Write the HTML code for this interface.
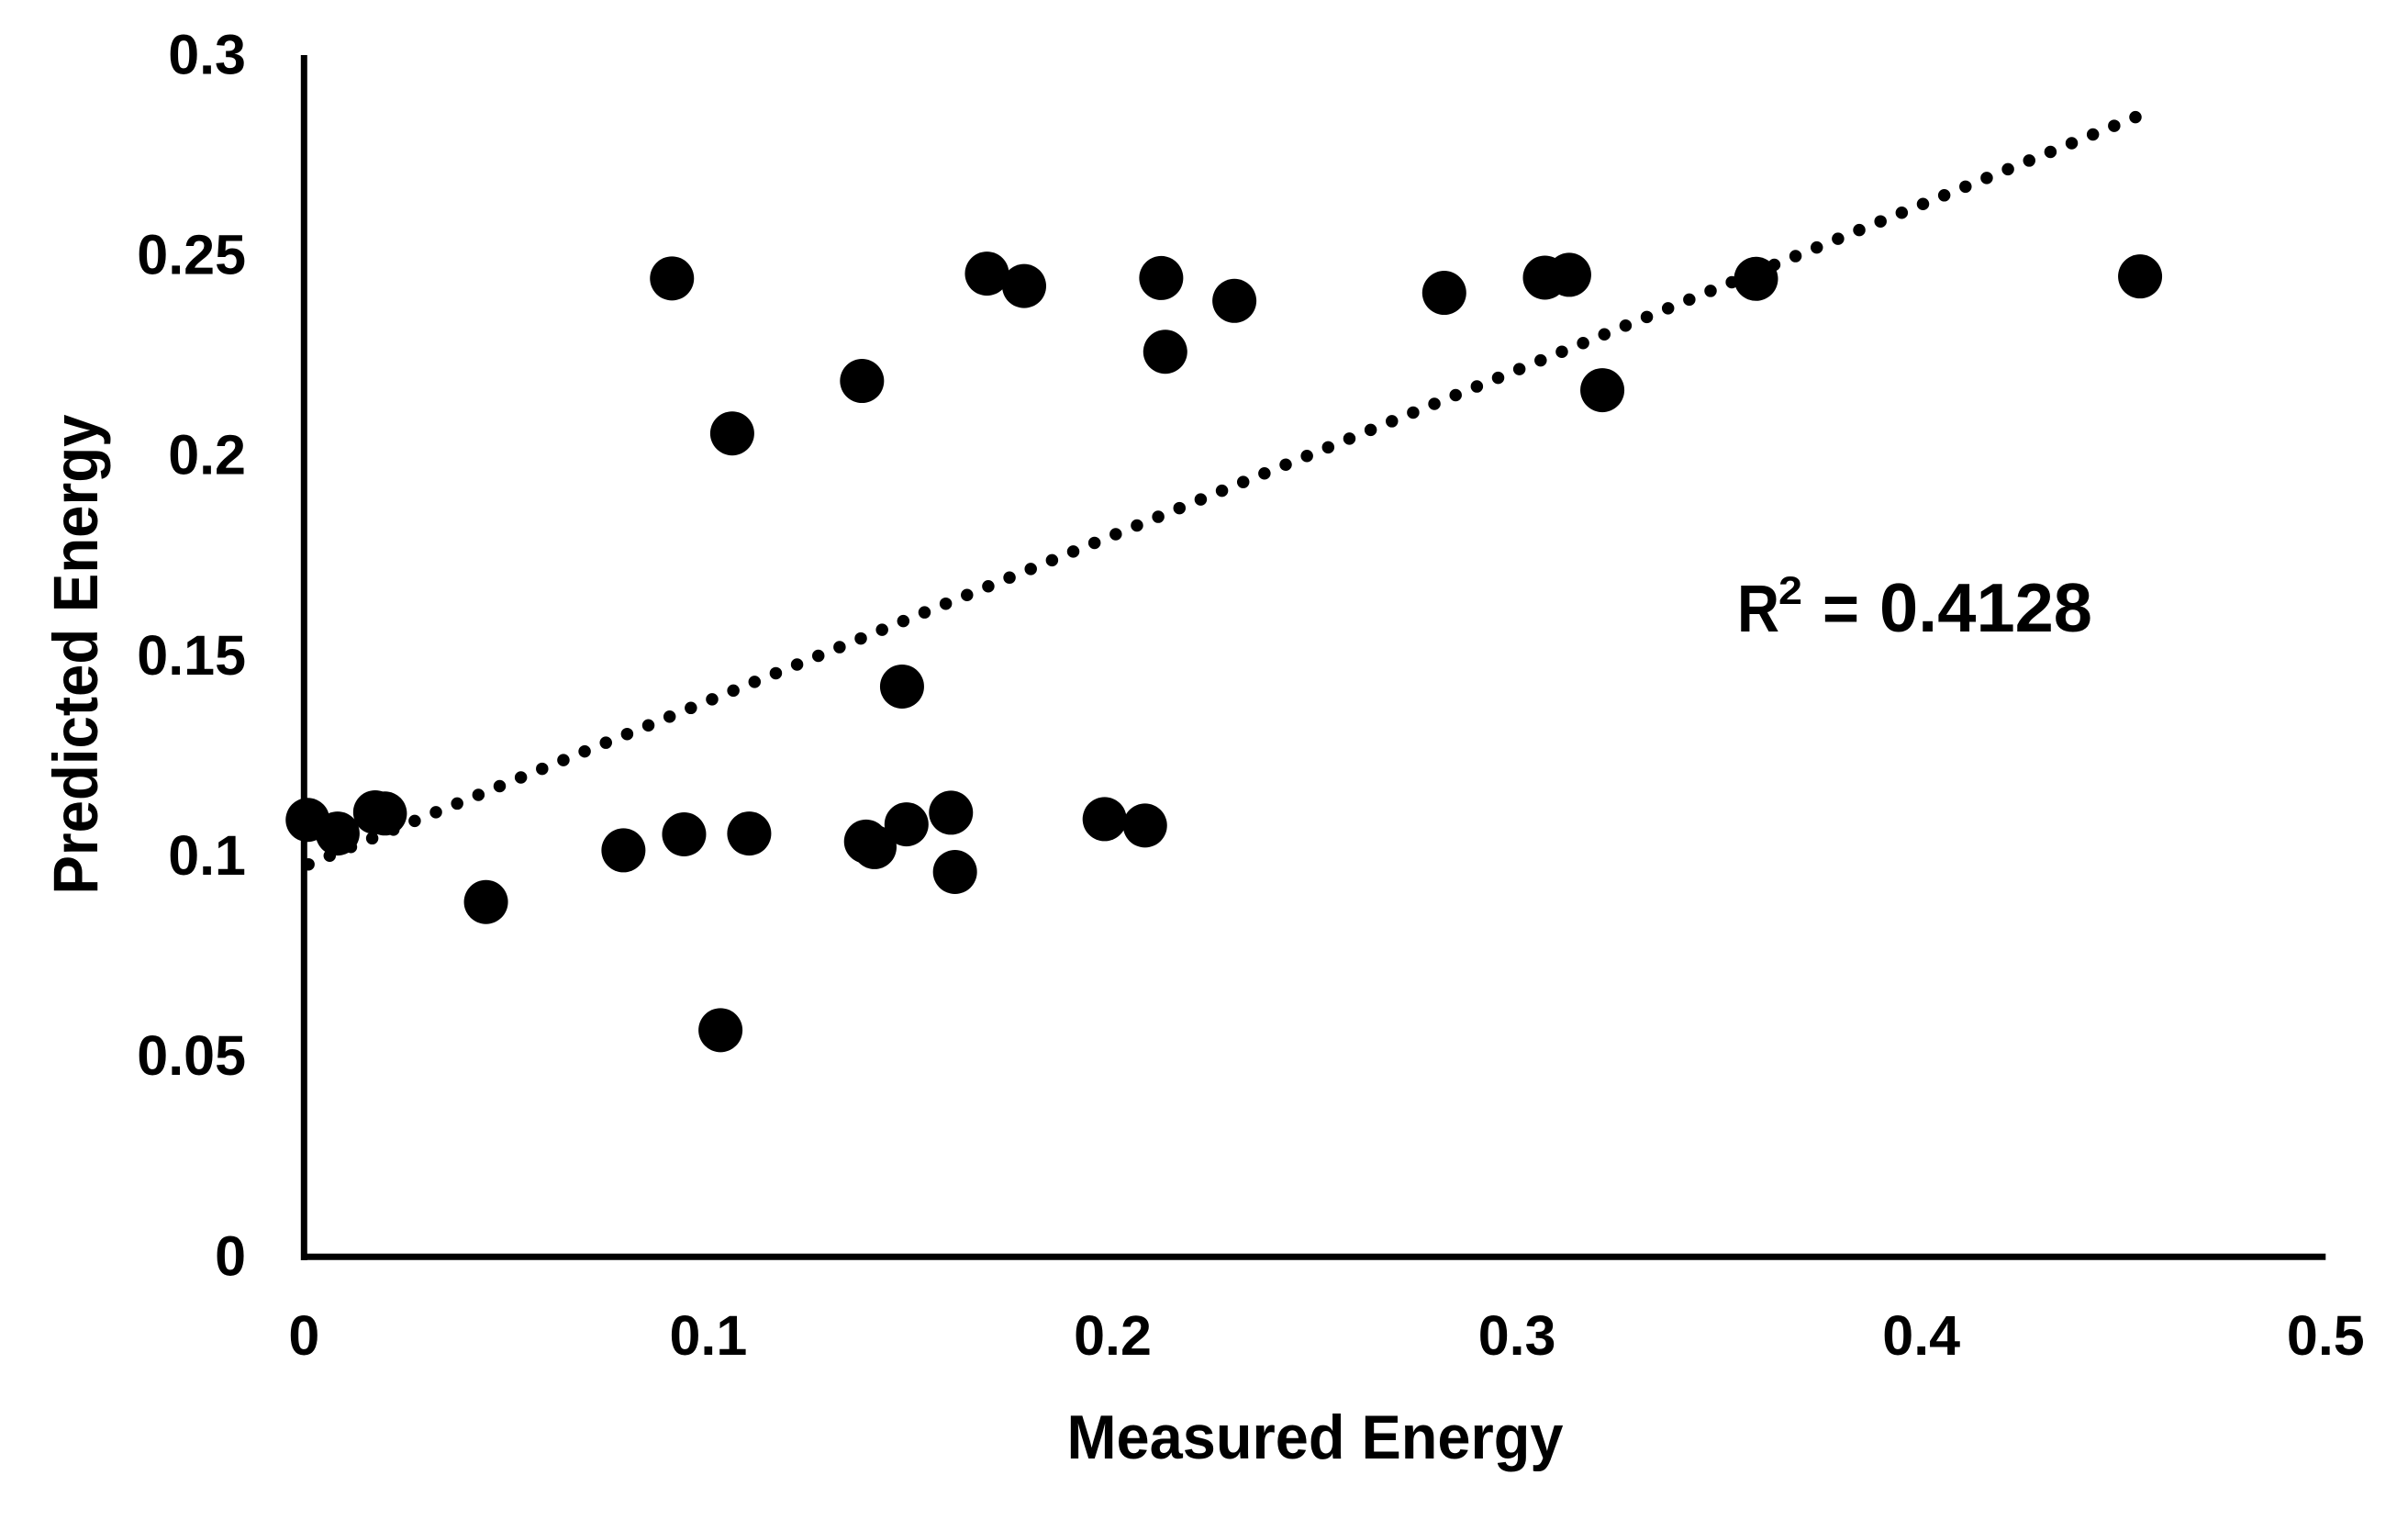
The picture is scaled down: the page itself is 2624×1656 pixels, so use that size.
<!DOCTYPE html>
<html lang="en">
<head>
<meta charset="utf-8">
<title>Measured vs Predicted Energy</title>
<style>
html,body{margin:0;padding:0;background:#fff;}
svg{display:block;}
text{font-family:"Liberation Sans",sans-serif;font-weight:700;fill:#000;}
</style>
</head>
<body>
<svg id="chart" xmlns="http://www.w3.org/2000/svg" width="2624" height="1656" viewBox="0 0 2624 1656">
  <rect x="0" y="0" width="2624" height="1656" fill="#fff"/>
  <g id="trend-layer"></g>
  <g id="point-layer"></g>
  <g id="axis-layer"></g>
  <text x="1433" y="1589" font-size="68" text-anchor="middle" textLength="541" lengthAdjust="spacingAndGlyphs">Measured Energy</text>
  <text x="0" y="0" transform="translate(106 713) rotate(-90)" font-size="69" text-anchor="middle" textLength="523" lengthAdjust="spacingAndGlyphs">Predicted Energy</text>
  <text y="688" font-size="75"><tspan x="1893" y="688" font-size="72" textLength="46" lengthAdjust="spacingAndGlyphs">R</tspan><tspan x="1938" y="658" font-size="43" textLength="26" lengthAdjust="spacingAndGlyphs">2</tspan><tspan x="1986" y="688" font-size="72" textLength="40" lengthAdjust="spacingAndGlyphs">=</tspan><tspan x="2048" y="688" font-size="75" textLength="232" lengthAdjust="spacingAndGlyphs">0.4128</tspan></text>
</svg>
<script>
const measured = [0.0009,0.0083,0.0176,0.0200,0.0450,0.0790,0.0910,0.0940,0.1030,0.1059,0.1101,0.1380,0.1390,0.1411,0.1479,0.1490,0.1600,0.1610,0.1689,0.1781,0.1980,0.2080,0.2120,0.2130,0.2301,0.2820,0.3069,0.3129,0.3211,0.3591,0.4541];
const predicted = [0.1091,0.1057,0.1110,0.1107,0.0886,0.1015,0.2443,0.1055,0.0566,0.2056,0.1057,0.2187,0.1037,0.1023,0.1424,0.1080,0.1109,0.0961,0.2455,0.2424,0.1093,0.1077,0.2444,0.2260,0.2387,0.2407,0.2445,0.2452,0.2164,0.2442,0.2448];
const trendX = [0.0011,0.4530];
const trendY = [0.0980,0.2846];
const xTicks = ["0","0.1","0.2","0.3","0.4","0.5"];
const yTicks = ["0","0.05","0.1","0.15","0.2","0.25","0.3"];

const NS = 'http://www.w3.org/2000/svg';
const xScale = v => 331.3 + v * 4406;
const yScale = v => 1369.3 - v * 4363.3;
const make = (tag, attrs) => {
  const el = document.createElementNS(NS, tag);
  Object.keys(attrs).forEach(k => el.setAttribute(k, attrs[k]));
  return el;
};

const trendLayer = document.getElementById('trend-layer');
const trend = make('polyline', {
  points: trendX.map((x, i) => xScale(x) + ',' + yScale(trendY[i])).join(' '),
  fill: 'none', stroke: '#000', 'stroke-width': 13.5,
  'stroke-linecap': 'round', 'stroke-dasharray': '0 25.01'
});


trendLayer.appendChild(trend);

const pointLayer = document.getElementById('point-layer');
measured.forEach((x, i) => {
  const c = make('circle', { cx: xScale(x), cy: yScale(predicted[i]), r: 24, fill: '#000' });
  
  
  pointLayer.appendChild(c);
});

const axisLayer = document.getElementById('axis-layer');
const yAxis = make('line', { x1: xScale(0), x2: xScale(0), y1: 60, y2: 1373, stroke: '#000', 'stroke-width': 7 });


axisLayer.appendChild(yAxis);
const xAxis = make('line', { x1: 328, x2: xScale(0.5), y1: yScale(0), y2: yScale(0), stroke: '#000', 'stroke-width': 7 });


axisLayer.appendChild(xAxis);

xTicks.forEach(label => {
  const t = make('text', { x: xScale(parseFloat(label)), y: 1476, 'font-size': 61, 'text-anchor': 'middle' });
  
  
  t.textContent = label;
  axisLayer.appendChild(t);
});
yTicks.forEach(label => {
  const t = make('text', { x: 268, y: yScale(parseFloat(label)) + 20, 'font-size': 61, 'text-anchor': 'end' });
  
  
  t.textContent = label;
  axisLayer.appendChild(t);
});
</script>
</body>
</html>
